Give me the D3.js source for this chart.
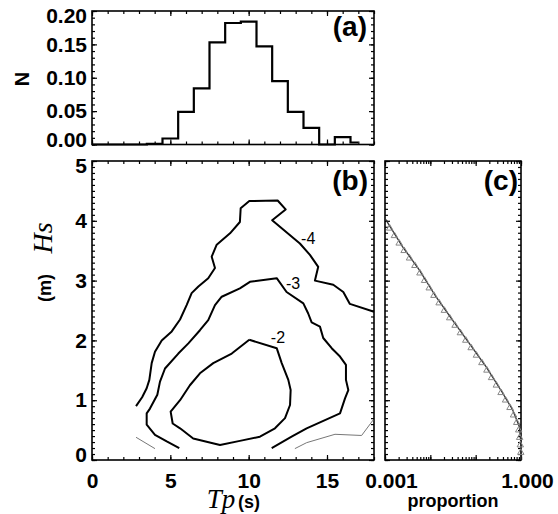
<!DOCTYPE html>
<html>
<head>
<meta charset="utf-8">
<script src="https://cdn.jsdelivr.net/npm/d3@7"></script>
<style>
  body { margin: 0; background: #fff; }
  svg { display: block; }
  .lab { font-family: "Liberation Sans", Arial, sans-serif; font-weight: bold; fill: #000; }
  .ser { font-family: "Liberation Serif", "Times New Roman", serif; font-style: italic; fill: #000; }
</style>
</head>
<body>
<script>
// panel (a): frequency of Tp
const tpBins = [0, 1, 2, 3, 4, 5, 6, 7, 8, 9, 10, 11, 12, 13, 14, 15, 16, 17]
const nFreq = [0, 0, 0, 0, 0.001, 0.009, 0.049, 0.084, 0.153, 0.182, 0.184, 0.147, 0.095, 0.049, 0.025, 0, 0.011, 0.003]

// panel (b): contour lines, [Tp, Hs]
const contour2 = [[10.04, 2.01], [11.79, 1.87], [12.11, 1.62], [12.53, 1.34], [12.68, 1.17], [12.64, 0.92],
  [12.32, 0.70], [11.68, 0.53], [10.72, 0.39], [9.44, 0.32], [8.17, 0.25], [6.46, 0.36], [5.62, 0.53],
  [5.15, 0.61], [5.02, 0.81], [5.62, 1.0], [6.25, 1.25], [6.89, 1.45], [7.74, 1.62], [8.92, 1.78], [10.04, 2.01]]
const contour3 = [[5.57, 0.20], [4.77, 0.31], [4.02, 0.42], [3.49, 0.59], [3.49, 0.78], [3.70, 0.86],
  [4.17, 1.09], [4.34, 1.31], [4.66, 1.53], [5.51, 1.78], [6.15, 1.95], [6.89, 2.17], [7.42, 2.34],
  [7.85, 2.59], [8.28, 2.73], [9.44, 2.87], [10.08, 2.98], [11.79, 3.04], [12.42, 2.81], [13.49, 2.62],
  [13.80, 2.45], [14.02, 2.30], [14.55, 2.23], [14.76, 2.04], [15.30, 1.87], [15.83, 1.73], [16.21, 1.59],
  [16.21, 1.34], [16.36, 1.17], [16.15, 1.03], [15.83, 0.78], [13.70, 0.53], [12.74, 0.39], [11.47, 0.20]]
const contour4 = [[2.81, 0.90], [3.2, 1.05], [3.49, 1.20], [3.66, 1.34], [3.81, 1.62], [4.02, 1.81],
  [4.45, 2.0], [5.09, 2.15], [5.62, 2.35], [6.04, 2.59], [6.36, 2.79], [6.79, 2.90], [7.42, 3.04],
  [7.85, 3.21], [7.64, 3.40], [7.96, 3.60], [8.81, 3.79], [9.44, 3.98], [9.49, 4.21], [10.04, 4.33],
  [11.85, 4.34], [12.36, 4.19], [11.5, 4.01], [13.27, 3.62], [13.91, 3.43], [14.44, 3.23], [14.23, 3.0],
  [15.4, 2.93], [16.04, 2.81], [16.46, 2.61], [18, 2.48]]
const contour5a = [[2.81, 0.38], [4.02, 0.19]]
const contour5b = [[12.95, 0.19], [13.70, 0.29], [15.51, 0.43], [17.21, 0.41], [17.95, 0.67]]
const contourLabels = [['-4', 13.8, 3.71], ['-3', 12.83, 2.96], ['-2', 11.87, 2.06]]

// panel (c): exceedance proportion of Hs
const fitProp = [0.001, 0.00243, 0.00569, 0.0133, 0.0309, 0.0723, 0.169, 0.393, 0.653, 0.917, 0.99, 1.0]
const fitHs = [4.04, 3.57, 3.18, 2.73, 2.34, 1.95, 1.56, 1.12, 0.84, 0.56, 0.3, 0.0]
const obsHs = [3.875, 3.75, 3.625, 3.5, 3.375, 3.25, 3.125, 3.0, 2.875, 2.75, 2.625, 2.5, 2.375, 2.25,
  2.125, 2.0, 1.875, 1.75, 1.625, 1.5, 1.375, 1.25, 1.125, 1.0, 0.875, 0.75, 0.625, 0.5, 0.375, 0.25, 0.125]
const obsProp = [0.00127, 0.00161, 0.00205, 0.00264, 0.00347, 0.00456, 0.00589, 0.00746, 0.00944, 0.0120,
  0.0156, 0.0204, 0.0267, 0.0351, 0.0460, 0.0605, 0.0794, 0.104, 0.137, 0.177, 0.224, 0.286, 0.363, 0.456,
  0.571, 0.684, 0.804, 0.891, 0.933, 0.966, 0.989]

const yTicksA = [0, 0.05, 0.10, 0.15, 0.20]
const yTicksB = [0, 1, 2, 3, 4, 5]
const xTicks = [0, 5, 10, 15]
const xTicksC = [0.001, 1]

const svg = d3.select('body').append('svg')
  .attr('width', 558)
  .attr('height', 514)

const x = d3.scaleLinear().domain([0, 18]).range([92, 374])
const yA = d3.scaleLinear().domain([0, 0.2]).range([144.5, 11])
const yB = d3.scaleLinear().domain([0, 5]).range([460, 161])
const xC = d3.scaleLog().domain([0.001, 1]).range([385, 521])

const majorLen = 5
const minorLen = 3

// draw one axis group (ticks inward), returns group
function axis(gen, scale, pos, values, len, labels) {
  const a = gen(scale).tickValues(values).tickSize(-len)
  if (labels) a.tickFormat(labels).tickPadding(gen === d3.axisBottom ? 13 : 5)
  else a.tickFormat('')
  const g = svg.append('g').attr('transform', pos).call(a)
  g.select('.domain').remove()
  g.selectAll('line').attr('stroke', '#000').attr('stroke-width', 1.2)
  g.selectAll('text').attr('class', 'lab').style('font-size', '21px')
  return g
}

function frame(xs, ys, xMaj, xMin, yMaj, yMin, xLab, yLab) {
  const [x0, x1] = xs.range()
  const [y0, y1] = ys.range()
  svg.append('rect')
    .attr('x', x0).attr('y', y1)
    .attr('width', x1 - x0).attr('height', y0 - y1)
    .attr('fill', 'none').attr('stroke', '#000').attr('stroke-width', 1.6)
  axis(d3.axisBottom, xs, `translate(0,${y0})`, xMaj, majorLen, xLab)
  axis(d3.axisBottom, xs, `translate(0,${y0})`, xMin, minorLen)
  axis(d3.axisTop, xs, `translate(0,${y1})`, xMaj, majorLen)
  axis(d3.axisTop, xs, `translate(0,${y1})`, xMin, minorLen)
  const ly = axis(d3.axisLeft, ys, `translate(${x0},0)`, yMaj, majorLen, yLab)
  // end labels sit a little inside the frame
  const n = yMaj.length
  ly.selectAll('text').attr('y', (d, i) => (i === 0 ? -5 : i === n - 1 ? 5 : 0))
  axis(d3.axisLeft, ys, `translate(${x0},0)`, yMin, minorLen)
  axis(d3.axisRight, ys, `translate(${x1},0)`, yMaj, majorLen)
  axis(d3.axisRight, ys, `translate(${x1},0)`, yMin, minorLen)
}

const xMinor = d3.range(0, 19)
const yMinorA = d3.range(0, 21).map(i => i / 100)
const yMinorB = d3.range(0, 51).map(i => i / 10)
const cMajor = [0.001, 0.01, 0.1, 1]
const cMinor = xC.ticks()

// ---- panel (a)
frame(x, yA, xTicks, xMinor, yTicksA, yMinorA, null, d3.format('.2f'))

svg.append('path')
  .datum(tpBins.map((t, i) => [t, nFreq[i]]))
  .attr('fill', 'none')
  .attr('stroke', '#000')
  .attr('stroke-width', 2.2)
  .attr('d', d3.line().x(d => x(d[0])).y(d => yA(d[1])).curve(d3.curveStep))

svg.append('text').attr('class', 'lab')
  .attr('transform', 'translate(29,79) rotate(-90)')
  .attr('text-anchor', 'middle')
  .style('font-size', '20px')
  .text('N')

// ---- panel (b)
frame(x, yB, xTicks, xMinor, yTicksB, yMinorB, d3.format('d'), d3.format('d'))

const cl = d3.line().x(d => x(d[0])).y(d => yB(d[1]))
const cg = svg.append('g')
;[contour2, contour3, contour4].forEach(c => {
  cg.append('path').datum(c)
    .attr('fill', 'none').attr('stroke', '#000').attr('stroke-width', 2)
    .attr('stroke-linejoin', 'round')
    .attr('d', cl)
})
;[contour5a, contour5b].forEach(c => {
  cg.append('path').datum(c)
    .attr('fill', 'none').attr('stroke', '#777').attr('stroke-width', 1)
    .attr('d', cl)
})
cg.selectAll('text.cl').data(contourLabels).enter()
  .append('text')
  .attr('x', d => x(d[1]))
  .attr('y', d => yB(d[2]) + 6)
  .attr('text-anchor', 'middle')
  .style('font-family', '"Liberation Sans", Arial, sans-serif')
  .style('font-size', '16px')
  .text(d => d[0])

// ---- panel (c)
frame(xC, yB, cMajor, cMinor, yTicksB, yMinorB, null, null)
axis(d3.axisBottom, xC, 'translate(6,460)', xTicksC, 0, d3.format('.3f'))

svg.append('path')
  .datum(fitProp.map((p, i) => [p, fitHs[i]]))
  .attr('fill', 'none').attr('stroke', '#333').attr('stroke-width', 1.3)
  .attr('d', d3.line().x(d => xC(d[0])).y(d => yB(d[1])))

svg.append('g').selectAll('path')
  .data(obsProp.map((p, i) => [p, obsHs[i]]))
  .enter().append('path')
  .attr('transform', d => `translate(${xC(d[0])},${yB(d[1])})`)
  .attr('d', d3.symbol(d3.symbolTriangle).size(18))
  .attr('fill', 'none').attr('stroke', '#888').attr('stroke-width', 1)

// panel tags
;[['(a)', 367, 36], ['(b)', 368, 190], ['(c)', 518, 190]].forEach(t => {
  svg.append('text').attr('class', 'lab')
    .attr('x', t[1]).attr('y', t[2])
    .attr('text-anchor', 'end')
    .style('font-size', '28px')
    .text(t[0])
})

// axis titles
svg.append('text').attr('class', 'ser')
  .attr('transform', 'translate(52,238) rotate(-90)')
  .attr('text-anchor', 'middle')
  .style('font-size', '28px')
  .text('Hs')
svg.append('text').attr('class', 'lab')
  .attr('transform', 'translate(51,288) rotate(-90)')
  .attr('text-anchor', 'middle')
  .style('font-size', '18px')
  .text('(m)')

svg.append('text').attr('class', 'ser')
  .attr('x', 221).attr('y', 508)
  .attr('text-anchor', 'middle')
  .style('font-size', '27px')
  .text('Tp')
svg.append('text').attr('class', 'lab')
  .attr('x', 249).attr('y', 508)
  .attr('text-anchor', 'middle')
  .style('font-size', '18px')
  .text('(s)')

svg.append('text').attr('class', 'lab')
  .attr('x', 453).attr('y', 507)
  .attr('text-anchor', 'middle')
  .style('font-size', '18px')
  .text('proportion')
</script>
</body>
</html>
